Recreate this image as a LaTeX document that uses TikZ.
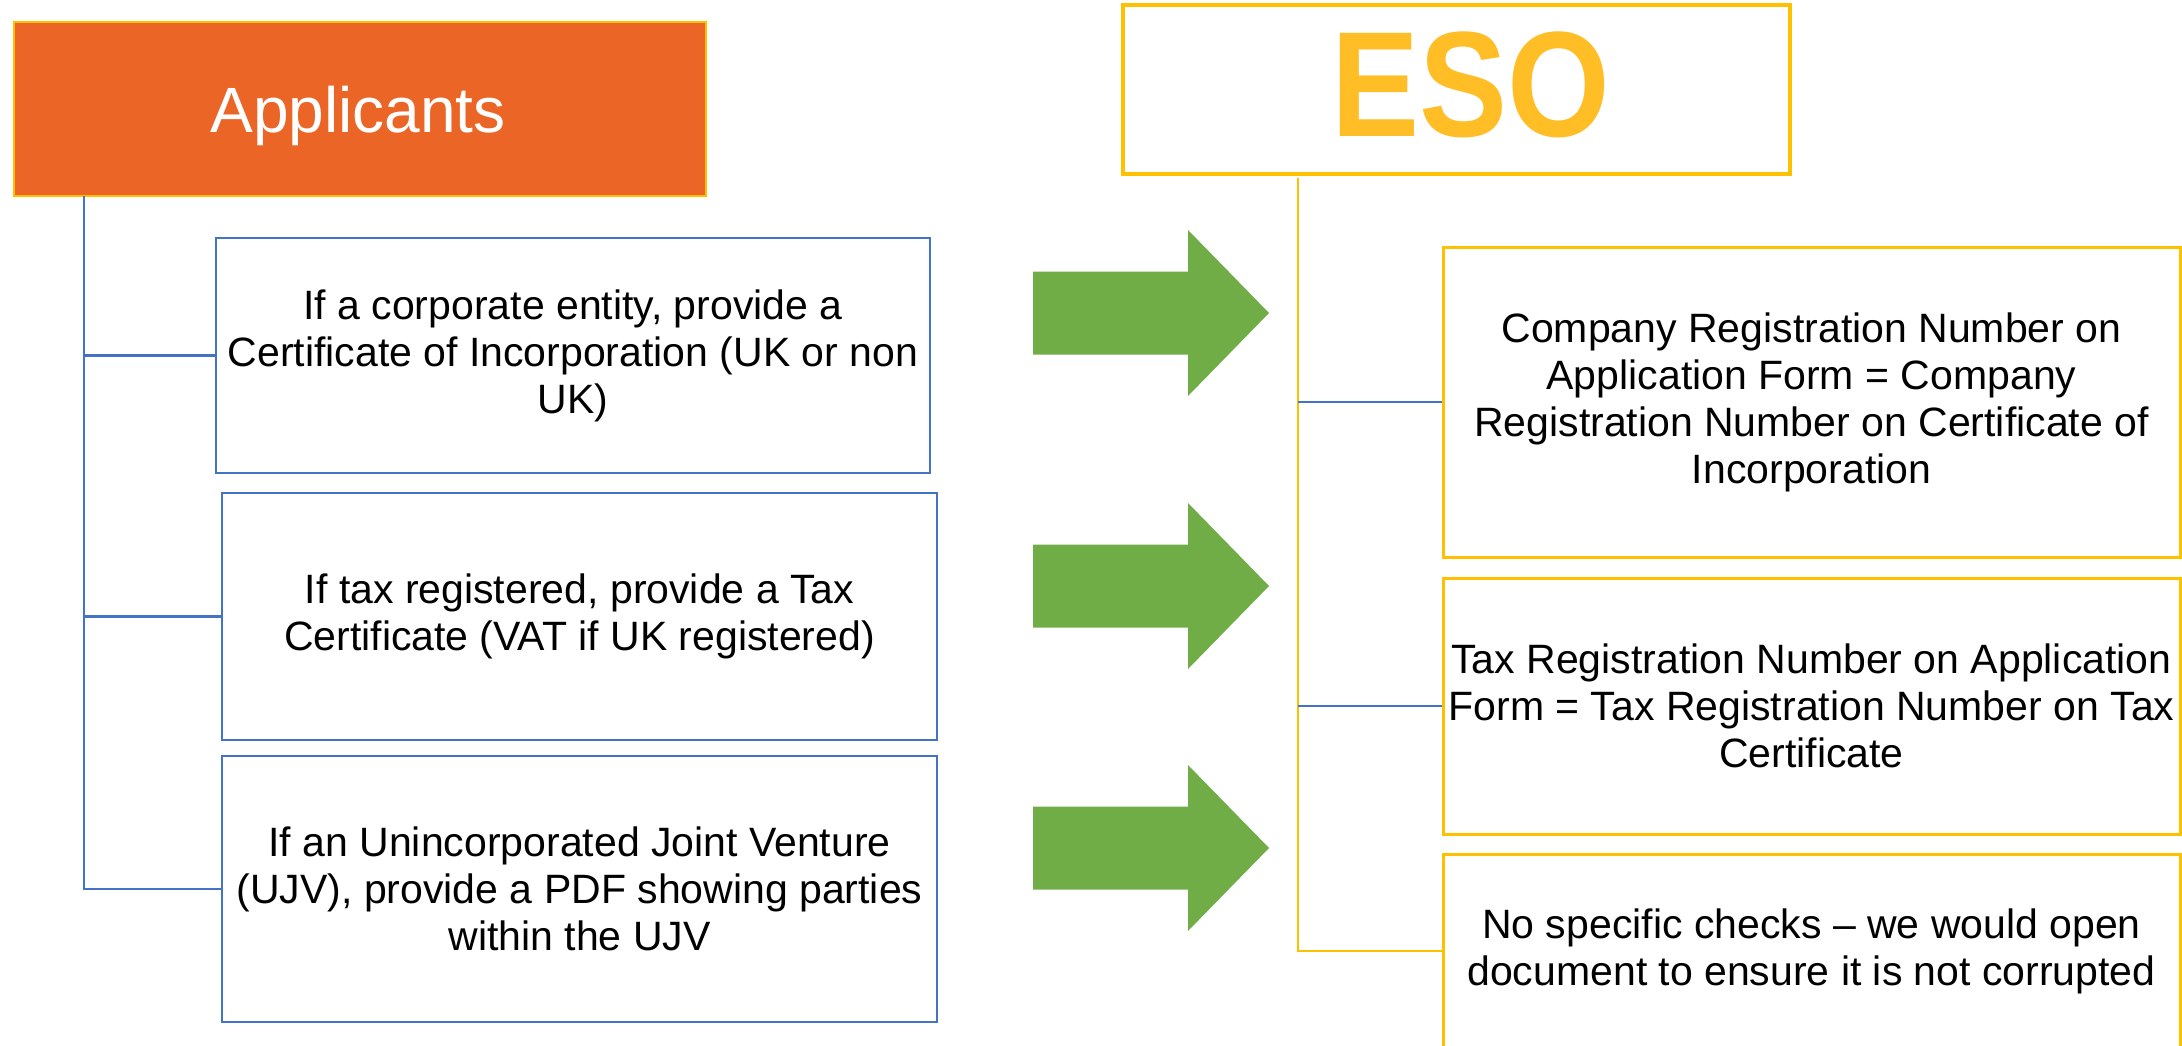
\documentclass[tikz,border=0pt]{standalone}
\usepackage{fontspec}
\setmainfont{Liberation Sans}
\usepackage{graphicx}
\definecolor{apporange}{RGB}{235,102,38}
\definecolor{gold}{RGB}{255,192,0}
\definecolor{esotext}{RGB}{255,190,38}
\definecolor{blueline}{RGB}{68,114,196}
\definecolor{arrowgreen}{RGB}{112,173,71}
\tikzset{
  bluebox/.style={draw=blueline, line width=2.5pt, fill=white, inner sep=0pt,
    align=center, font=\fontsize{41}{47}\selectfont},
  goldbox/.style={draw=gold, line width=3pt, fill=white, inner sep=0pt,
    align=center, font=\fontsize{41}{47}\selectfont},
  bl/.style={draw=blueline, line width=2.5pt},
  gl/.style={draw=gold, line width=2.5pt},
  bigarrow/.pic={\fill[arrowgreen] (0,-41.5) -- (155,-41.5) -- (155,-83) -- (236,0)
     -- (155,83) -- (155,41.5) -- (0,41.5) -- cycle;}
}
\begin{document}
\begin{tikzpicture}[x=1pt,y=-1pt]
\useasboundingbox (0,0) rectangle (2182,1046);
\clip (0,0) rectangle (2182,1046);
\fill[white] (0,0) rectangle (2182,1046);

% Applicants header
\node[draw=gold, line width=2.5pt, fill=apporange, minimum width=692pt, minimum height=174pt, inner sep=0pt] (app) at (360,109) {};
\node[anchor=base, text=white, font=\fontsize{64}{70}\selectfont, inner sep=0pt] (apptxt) at (358,132) {Applicants};

% ESO header
\node[draw=gold, line width=3.5pt, fill=white, minimum width=667pt, minimum height=169pt, inner sep=0pt] (eso) at (1456.5,89.5) {};
\node[anchor=base, text=esotext, font=\fontsize{150}{150}\selectfont\bfseries, inner sep=0pt] (esotxt) at (1471,137) {\scalebox{0.88}[1]{ESO}};

% left boxes
\node[bluebox, minimum width=714pt, minimum height=235pt] (b1) at (573,355.5)
  {If a corporate entity, provide a\\Certificate of Incorporation (UK or non\\UK)};
\node[bluebox, minimum width=715pt, minimum height=247pt] (b2) at (579.5,616.5)
  {If tax registered, provide a Tax\\Certificate (VAT if UK registered)};
\node[bluebox, minimum width=715pt, minimum height=266pt] (b3) at (579.5,889)
  {If an Unincorporated Joint Venture\\(UJV), provide a PDF showing parties\\within the UJV};

% right boxes
\node[goldbox, minimum width=737pt, minimum height=310pt] (r1) at (1811.5,402)
  {Company Registration Number on\\Application Form = Company\\Registration Number on Certificate of\\Incorporation};
\node[goldbox, minimum width=737pt, minimum height=256pt] (r2) at (1811.5,706)
  {Tax Registration Number on Application\\Form = Tax Registration Number on Tax\\Certificate};
\node[goldbox, minimum width=737pt, minimum height=194pt] (r3) at (1811.5,951)
  {No specific checks – we would open\\document to ensure it is not corrupted};

% left tree
\coordinate (lroot) at (84,196);
\draw[bl] (lroot) |- (b3.west);
\draw[bl] (lroot |- b1.west) -- (b1.west);
\draw[bl] (lroot |- b2.west) -- (b2.west);

% right tree
\coordinate (rroot) at (1298,178);
\draw[gl] (rroot) |- (r3.west);
\draw[bl] (rroot |- r1.west) -- (r1.west);
\draw[bl] (rroot |- r2.west) -- (r2.west);

% green arrows
\pic at (1033,313) {bigarrow};
\pic at (1033,586) {bigarrow};
\pic at (1033,848) {bigarrow};
\end{tikzpicture}
\end{document}
